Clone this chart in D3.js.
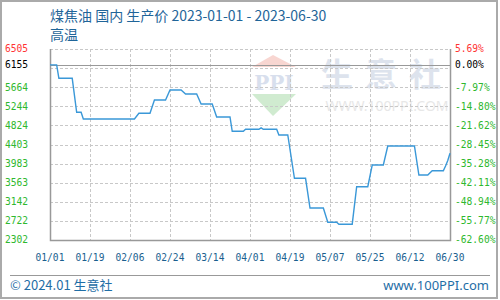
<!DOCTYPE html>
<html>
<head>
<meta charset="utf-8">
<script src="https://cdn.jsdelivr.net/npm/d3@7"></script>
<style>
  body { margin: 0; background: #fff; }
  svg { display: block; }
</style>
</head>
<body>
<svg width="500" height="300"></svg>
<script>
// price points (date, price)
var dates = ["2023-01-01", "2023-01-04", "2023-01-05", "2023-01-11", "2023-01-13",
  "2023-01-15", "2023-01-16", "2023-02-08", "2023-02-10", "2023-02-15", "2023-02-17",
  "2023-02-22", "2023-02-24", "2023-03-01", "2023-03-03", "2023-03-08", "2023-03-10",
  "2023-03-15", "2023-03-17", "2023-03-23", "2023-03-24", "2023-03-29", "2023-03-30",
  "2023-04-05", "2023-04-06", "2023-04-07", "2023-04-13", "2023-04-14", "2023-04-18",
  "2023-04-21", "2023-04-26", "2023-04-28", "2023-05-04", "2023-05-06", "2023-05-10",
  "2023-05-11", "2023-05-17", "2023-05-19", "2023-05-24", "2023-05-26", "2023-05-31",
  "2023-06-02", "2023-06-14", "2023-06-16", "2023-06-20", "2023-06-22", "2023-06-27",
  "2023-06-28", "2023-06-29", "2023-06-30"];
var prices = [6155, 6155, 5860, 5860, 5112,
  5112, 4965, 4965, 5090, 5090, 5383,
  5383, 5603, 5603, 5515, 5515, 5295,
  5295, 5009, 5009, 4694, 4694, 4738,
  4738, 4770, 4738, 4738, 4613, 4613,
  3660, 3660, 3006, 3006, 2692, 2692,
  2650, 2650, 3475, 3475, 3952, 3952,
  4371, 4371, 3732, 3732, 3827, 3827,
  3930, 4050, 4210];

var basePrice = 6155;
var leftLabels = [6505, 6155, 5664, 5244, 4824, 4403, 3983, 3563, 3142, 2722, 2302];
var rightLabels = ["5.69%", "0.00%", "-7.97%", "-14.80%", "-21.62%", "-28.45%",
  "-35.28%", "-42.11%", "-48.94%", "-55.77%", "-62.60%"];
var xLabels = ["01/01", "01/19", "02/06", "02/24", "03/14", "04/01",
  "04/19", "05/07", "05/25", "06/12", "06/30"];

var svg = d3.select("svg"),
    margin = {top: 49, left: 50},
    width = 400,
    height = 191,
    parseDate = d3.timeParse("%Y-%m-%d");

var data = dates.map(function(d, i) { return {date: parseDate(d), price: prices[i]}; });

var x = d3.scaleTime()
    .domain([parseDate("2023-01-01"), parseDate("2023-06-30")])
    .range([margin.left, margin.left + width]);

var y = d3.scaleLinear()
    .domain([2302, 6505])
    .range([margin.top + height, margin.top]);

// outer frame
svg.append("rect")
    .attr("x", 1).attr("y", 1)
    .attr("width", 496).attr("height", 297)
    .attr("fill", "none")
    .attr("stroke", "#aaa")
    .attr("stroke-width", 2);

// watermark
var wm = svg.append("g").attr("opacity", 0.55);
wm.append("path")
    .attr("d", "M273,55 L296,67 L252,67 Z")
    .attr("fill", "#f3b5ad");
wm.append("text")
    .attr("x", 274).attr("y", 90)
    .attr("text-anchor", "middle")
    .attr("font-family", "DejaVu Serif")
    .attr("font-weight", "bold")
    .attr("font-size", 20)
    .attr("fill", "#b9c6e0")
    .text("PPI");
wm.append("path")
    .attr("d", "M252,94 L296,94 L273,116 Z")
    .attr("fill", "#aadcaa");
wm.append("text")
    .attr("x", 387).attr("y", 86)
    .attr("text-anchor", "middle")
    .attr("font-family", "Noto Sans CJK SC")
    .attr("font-weight", "bold")
    .attr("font-size", 32)
    .attr("letter-spacing", 12)
    .attr("fill", "#c3cde0")
    .text("生意社");
wm.append("text")
    .attr("x", 387).attr("y", 111)
    .attr("text-anchor", "middle")
    .attr("font-family", "Noto Sans")
    .attr("font-size", 14)
    .attr("fill", "#d4d4d4")
    .text("WWW.100PPI.COM");

// title
svg.append("text")
    .attr("x", 50).attr("y", 21)
    .attr("font-family", "Noto Sans CJK SC")
    .attr("font-size", 14)
    .attr("fill", "#1f6599")
    .text("煤焦油 国内 生产价 2023-01-01 - 2023-06-30");
svg.append("text")
    .attr("x", 50).attr("y", 40)
    .attr("font-family", "Noto Sans CJK SC")
    .attr("font-size", 14)
    .attr("fill", "#1f6599")
    .text("高温");

// grid
var gridVals = d3.range(11).map(function(i) { return 2302 + i * (6505 - 2302) / 10; });
svg.append("g").selectAll("line")
  .data(gridVals)
  .enter().append("line")
    .attr("x1", margin.left).attr("x2", margin.left + width)
    .attr("y1", function(d) { return Math.round(y(d)) + 0.5; })
    .attr("y2", function(d) { return Math.round(y(d)) + 0.5; })
    .attr("stroke", "#c8c8c8")
    .attr("stroke-dasharray", "3,2");

var xTicks = xLabels.map(function(d, i) { return d3.timeDay.offset(parseDate("2023-01-01"), i * 18); });
svg.append("g").selectAll("line")
  .data(xTicks)
  .enter().append("line")
    .attr("x1", function(d) { return Math.round(x(d)) + 0.5; })
    .attr("x2", function(d) { return Math.round(x(d)) + 0.5; })
    .attr("y1", margin.top).attr("y2", margin.top + height)
    .attr("stroke", "#c8c8c8")
    .attr("stroke-dasharray", "3,2");

// base line and frame
svg.append("line")
    .attr("x1", margin.left).attr("x2", margin.left + width)
    .attr("y1", Math.round(y(basePrice)) + 0.5).attr("y2", Math.round(y(basePrice)) + 0.5)
    .attr("stroke", "#999");
svg.append("path")
    .attr("d", "M" + (margin.left + 0.5) + "," + margin.top + "V" + (margin.top + height + 0.5) +
      "H" + (margin.left + width + 0.5) + "V" + margin.top)
    .attr("fill", "none")
    .attr("stroke", "#999")
    .attr("stroke-width", 1.5);

// axis labels
function labelColor(i) { return i === 0 ? "#ff3333" : (i === 1 ? "#000" : "#2eb82e"); }

svg.append("g").selectAll("text")
  .data(leftLabels)
  .enter().append("text")
    .attr("x", 5)
    .attr("y", function(d) { return y(d); })
    .attr("dy", "0.35em")
    .attr("font-family", "DejaVu Sans Mono")
    .attr("font-size", 9.6)
    .attr("fill", function(d, i) { return labelColor(i); })
    .text(function(d) { return d; });

svg.append("g").selectAll("text")
  .data(rightLabels)
  .enter().append("text")
    .attr("x", 455)
    .attr("y", function(d, i) { return y(leftLabels[i]); })
    .attr("dy", "0.35em")
    .attr("font-family", "DejaVu Sans Mono")
    .attr("font-size", 9.6)
    .attr("fill", function(d, i) { return labelColor(i); })
    .text(function(d) { return d; });

svg.append("g").selectAll("text")
  .data(xLabels)
  .enter().append("text")
    .attr("x", function(d, i) { return x(xTicks[i]); })
    .attr("y", 261)
    .attr("text-anchor", "middle")
    .attr("font-family", "DejaVu Sans Mono")
    .attr("font-size", 9.6)
    .attr("fill", "#1a5f8f")
    .text(function(d) { return d; });

// price line
var line = d3.line()
    .x(function(d) { return x(d.date); })
    .y(function(d) { return y(d.price); });

svg.append("path")
    .datum(data)
    .attr("fill", "none")
    .attr("stroke", "#3a98d8")
    .attr("stroke-width", 1.4)
    .attr("d", line);

// footer
svg.append("line")
    .attr("x1", 10).attr("x2", 490)
    .attr("y1", 275.5).attr("y2", 275.5)
    .attr("stroke", "#999");
svg.append("text")
    .attr("x", 10).attr("y", 290)
    .attr("font-family", "Noto Sans CJK SC")
    .attr("font-size", 13)
    .attr("fill", "#1f6ea6")
    .text("© 2024.01 生意社");
svg.append("text")
    .attr("x", 489).attr("y", 290)
    .attr("text-anchor", "end")
    .attr("font-family", "Noto Sans")
    .attr("font-size", 13)
    .attr("fill", "#1f6ea6")
    .text("www.100PPI.com");
</script>
</body>
</html>
